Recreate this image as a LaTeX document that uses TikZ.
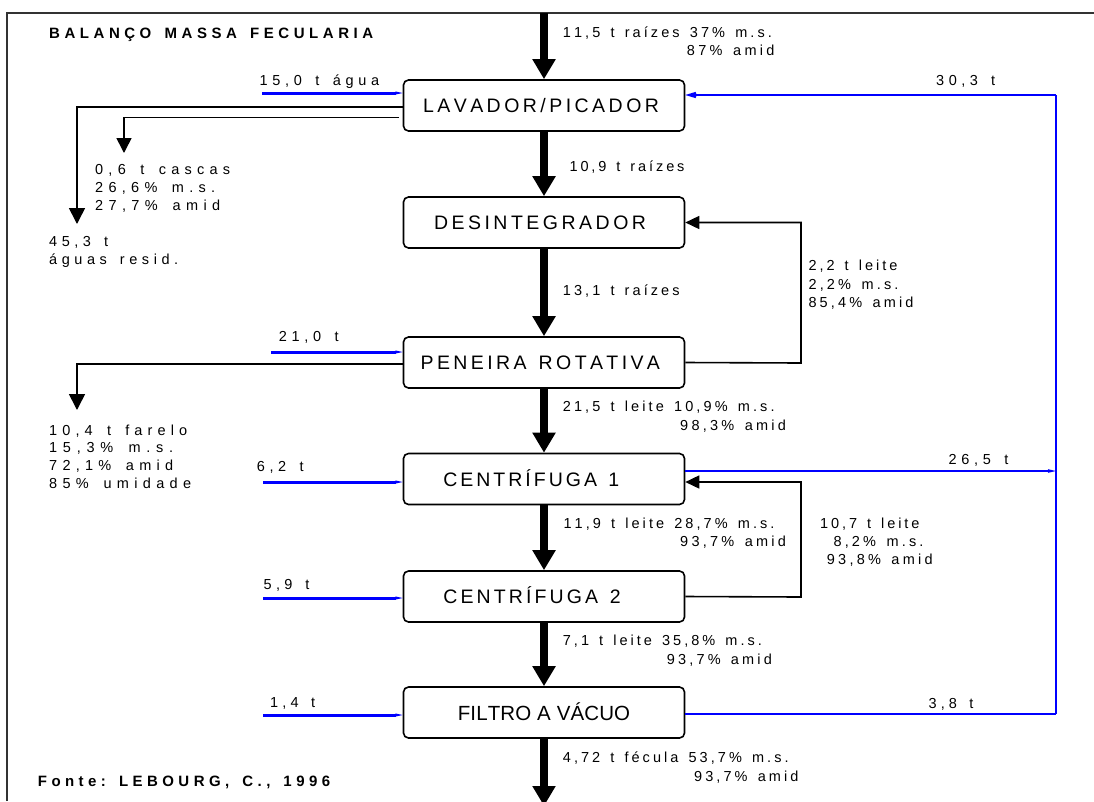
\documentclass[tikz,border=0pt]{standalone}
\usepackage{fontspec}
\setmainfont{Liberation Sans}
\usetikzlibrary{arrows.meta}
\definecolor{flowblue}{RGB}{0,0,255}
\definecolor{framegray}{RGB}{50,50,50}
\makeatletter
% spread the characters of #2 evenly over a box of width #1 (~ stands for a word space)
\def\spr@end{\spr@end}
\def\spreadto#1#2{\hbox to #1{\spr@first#2\spr@end}}
\def\spr@first#1{#1\spr@next}
\def\spr@next#1{\ifx#1\spr@end\else\hfil\ifx#1~\hskip\fontdimen2\font\relax\else#1\fi\expandafter\spr@next\fi}
\makeatother
\tikzset{
  lbl/.style={font=\fontsize{14.5}{16}\selectfont, inner sep=0pt, anchor=base west, text=black},
  ttl/.style={font=\bfseries\fontsize{15}{17}\selectfont, inner sep=0pt, anchor=base west},
  proc/.style={draw, line width=1.6pt, rounded corners=5pt, minimum width=281pt, minimum height=51pt,
    inner sep=0pt, font=\fontsize{19.5}{22}\selectfont, text height=14pt, text depth=0pt},
  mainflow/.style={line width=8pt, -{Triangle[length=20pt,width=22pt]}},
  sideout/.style={line width=1.6pt, -{Triangle[length=16pt,width=16pt]}},
  recyc/.style={line width=1.6pt, -{Triangle[length=14pt,width=13pt]}},
  feed/.style={flowblue, line width=3pt, -{Stealth[length=23pt,width=10pt,inset=13pt]}},
  ret/.style={flowblue, line width=2.5pt},
  rethead/.style={ret, -{Stealth[length=23pt,width=14pt,inset=14pt]}},
  retthin/.style={flowblue, line width=1.8pt}
}
\begin{document}
\begin{tikzpicture}[x=1pt,y=-1pt]
\useasboundingbox (0,0) rectangle (1094,801);
\fill[white] (0,0) rectangle (1094,801);
% frame
\draw[framegray, line width=2pt] (7,801) -- (7,13) -- (1094,13);

% process boxes
\node[proc] (lav) at (544,105.5) {\spreadto{236pt}{LAVADOR/PICADOR}\hspace*{6pt}};
\node[proc] (des) at (544,222.5) {\spreadto{212pt}{DESINTEGRADOR}\hspace*{8pt}};
\node[proc] (pen) at (544,362.5) {\spreadto{239.3pt}{PENEIRA~ROTATIVA}\hspace*{7.4pt}};
\node[proc] (c1) at (544,479) {\spreadto{176pt}{CENTRÍFUGA~1}\hspace*{25.4pt}};
\node[proc] (c2) at (544,596.5) {\spreadto{177.3pt}{CENTRÍFUGA~2}\hspace*{24pt}};
\node[proc, font=\fontsize{20.5}{23}\selectfont, text height=15pt] (fil) at (544,712.5) {\spreadto{172.3pt}{FILTRO~A~VÁCUO}};

% main flow
\coordinate (topin) at (544,13);
\coordinate (botout) at (544,806);
\draw[mainflow] (topin) -- (lav.north);
\draw[mainflow] (lav.south) -- (des.north);
\draw[mainflow] (des.south) -- (pen.north);
\draw[mainflow] (pen.south) -- (c1.north);
\draw[mainflow] (c1.south) -- (c2.north);
\draw[mainflow] (c2.south) -- (fil.north);
\draw[mainflow] (fil.south) -- (botout);

% side outputs
\coordinate (agua) at (77,224);
\draw[sideout] ([yshift=-1.5pt]lav.west) -| (agua);
\coordinate (casc0) at (399,117.5);
\coordinate (casc) at (124,153);
\draw[line width=1.6pt, -{Triangle[length=15pt,width=15pt]}] (casc0) -| (casc);
\coordinate (far) at (77,410);
\draw[sideout] ([yshift=-1.5pt]pen.west) -| (far);

% recycles
\coordinate (r1) at (801,363);
\draw[recyc] (pen.east) -- (r1) |- (des.east);
\coordinate (r2) at (801,597);
\draw[recyc] (c2.east) -- (r2) |- ([yshift=-3pt]c1.east);

% blue return water
\coordinate (rt) at (1056,95);
\coordinate (rb) at (1056,714);
\draw[ret] (rb) -- (rt);
\draw[rethead] (rt) -- (rt -| lav.east);
\draw[ret, -{Stealth[length=22pt,width=10pt,inset=12pt]}] ([yshift=8pt]c1.east) -- ([yshift=8pt]c1.east -| rt);
\draw[retthin] ([yshift=-1.5pt]fil.east) -- (rb);

% blue feeds
\coordinate (f1) at (262,93);
\coordinate (f2) at (271,352);
\coordinate (f3) at (263,482);
\coordinate (f4) at (263,598);
\coordinate (f5) at (263,715);
\draw[feed] (f1) -- (f1 -| lav.west);
\draw[feed] (f2) -- (f2 -| pen.west);
\draw[feed] (f3) -- (f3 -| c1.west);
\draw[feed] (f4) -- (f4 -| c2.west);
\draw[feed] (f5) -- (f5 -| fil.west);

% titles
\node[ttl] (title) at (49,38) {\spreadto{324pt}{BALANÇO~MASSA~FECULARIA}};
\node[ttl] (fonte) at (37.7,786.5) {\spreadto{292.3pt}{Fonte:~LEBOURG,~C.,~1996}};

% labels
\node[lbl] (l1a) at (562.7,37) {\spreadto{209pt}{11,5~t~raízes~37\%~m.s.}};
\node[lbl] (l1b) at (686.7,55.5) {\spreadto{87.6pt}{87\%~amid}};
\node[lbl] (w1) at (259.3,85) {\spreadto{119.7pt}{15,0~t~água}};
\node[lbl] (k1) at (95,174.5) {\spreadto{135pt}{0,6~t~cascas}};
\node[lbl] (k2) at (95,192) {\spreadto{120pt}{26,6\%~m.s.}};
\node[lbl] (k3) at (95,210) {\spreadto{125pt}{27,7\%~amid}};
\node[lbl] (a1) at (49,246) {\spreadto{59pt}{45,3~t}};
\node[lbl] (a2) at (49,264.5) {\spreadto{129pt}{águas~resid.}};
\node[lbl] (l2) at (569.3,171.7) {\spreadto{115pt}{10,9~t~raízes}};
\node[lbl] (w30) at (936,85) {\spreadto{59pt}{30,3~t}};
\node[lbl] (d1) at (808.3,270.7) {\spreadto{89pt}{2,2~t~leite}};
\node[lbl] (d2) at (808.3,289) {\spreadto{90pt}{2,2\%~m.s.}};
\node[lbl] (d3) at (808.3,307) {\spreadto{105pt}{85,4\%~amid}};
\node[lbl] (l3) at (562.7,295) {\spreadto{116.7pt}{13,1~t~raízes}};
\node[lbl] (w21) at (278.7,341) {\spreadto{59.7pt}{21,0~t}};
\node[lbl] (fa1) at (49,435) {\spreadto{138pt}{10,4~t~farelo}};
\node[lbl] (fa2) at (49,452.7) {\spreadto{124pt}{15,3\%~m.s.}};
\node[lbl] (fa3) at (49,470) {\spreadto{124pt}{72,1\%~amid}};
\node[lbl] (fa4) at (49,488) {\spreadto{142pt}{85\%~umidade}};
\node[lbl] (l4a) at (562.7,411.7) {\spreadto{211.7pt}{21,5~t~leite~10,9\%~m.s.}};
\node[lbl] (l4b) at (680,430) {\spreadto{105.7pt}{98,3\%~amid}};
\node[lbl] (w62) at (256.7,471) {\spreadto{46.7pt}{6,2~t}};
\node[lbl] (w265) at (948.3,464) {\spreadto{60pt}{26,5~t}};
\node[lbl] (l5a) at (563.3,528) {\spreadto{211pt}{11,9~t~leite~28,7\%~m.s.}};
\node[lbl] (l5b) at (680,546.7) {\spreadto{105.7pt}{93,7\%~amid}};
\node[lbl] (e1) at (820,528) {\spreadto{99.3pt}{10,7~t~leite}};
\node[lbl] (e2) at (833.3,546.7) {\spreadto{90pt}{8,2\%~m.s.}};
\node[lbl] (e3) at (826.7,564.3) {\spreadto{105.7pt}{93,8\%~amid}};
\node[lbl] (w59) at (263.3,589) {\spreadto{46pt}{5,9~t}};
\node[lbl] (l6a) at (562.7,645) {\spreadto{199pt}{7,1~t~leite~35,8\%~m.s.}};
\node[lbl] (l6b) at (666.7,664) {\spreadto{105pt}{93,7\%~amid}};
\node[lbl] (w38) at (928.3,708) {\spreadto{45pt}{3,8~t}};
\node[lbl] (w14) at (270,707) {\spreadto{45pt}{1,4~t}};
\node[lbl] (l7a) at (562.7,762) {\spreadto{225.7pt}{4,72~t~fécula~53,7\%~m.s.}};
\node[lbl] (l7b) at (694,781.7) {\spreadto{104.3pt}{93,7\%~amid}};
\end{tikzpicture}
\end{document}
